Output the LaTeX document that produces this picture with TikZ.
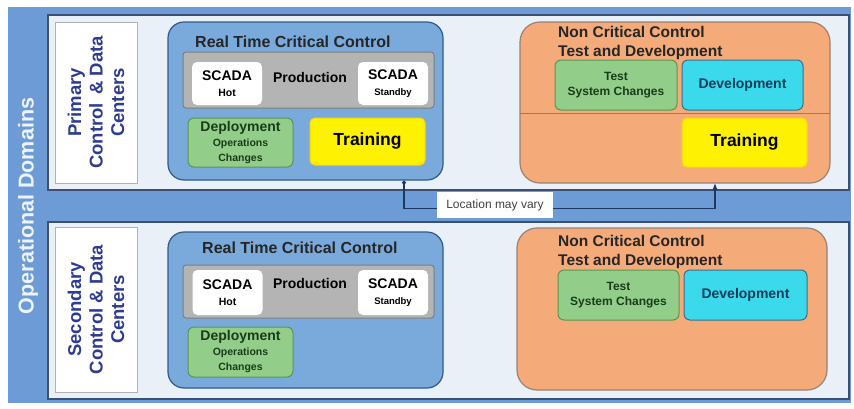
\documentclass[tikz,border=0pt]{standalone}
\usepackage{fontspec}
\setmainfont{Liberation Sans}
\usepackage{xcolor}
\usetikzlibrary{arrows.meta, positioning, calc}
\definecolor{opblue}{RGB}{108,155,214}
\definecolor{panelfill}{RGB}{234,240,247}
\definecolor{panelline}{RGB}{60,80,115}
\definecolor{rtfill}{RGB}{122,170,220}
\definecolor{rtline}{RGB}{47,90,140}
\definecolor{prodfill}{RGB}{180,180,180}
\definecolor{prodline}{RGB}{125,125,125}
\definecolor{greenfill}{RGB}{146,206,138}
\definecolor{greenline}{RGB}{90,150,80}
\definecolor{greentext}{RGB}{25,60,25}
\definecolor{ncfill}{RGB}{245,170,122}
\definecolor{ncline}{RGB}{150,130,118}
\definecolor{splitline}{RGB}{190,110,70}
\definecolor{devfill}{RGB}{58,218,236}
\definecolor{devline}{RGB}{60,110,140}
\definecolor{devtext}{RGB}{15,60,90}
\definecolor{sitecol}{RGB}{45,60,145}
\definecolor{linkcol}{RGB}{30,55,100}

\begin{document}
\begin{tikzpicture}[x=1pt, y=-1pt,
  every node/.style={inner sep=0pt},
  panel/.style={draw=panelline, fill=panelfill, line width=1.2pt},
  sitebox/.style={draw=black!30, fill=white, line width=0.8pt},
  sitetext/.style={rotate=90, align=center, text=sitecol, font=\fontsize{18.5}{21.5}\selectfont\bfseries},
  rtbox/.style={draw=rtline, fill=rtfill, line width=1.2pt, rounded corners=16pt},
  prodbox/.style={draw=prodline, fill=prodfill, line width=1pt, rounded corners=3pt},
  scada/.style={fill=white, rounded corners=5pt, align=center, minimum width=70pt, font=\fontsize{14}{16.5}\selectfont\bfseries},
  greenbox/.style={draw=greenline, fill=greenfill, line width=1pt, rounded corners=6pt, align=center, text=greentext, font=\fontsize{10.5}{15}\selectfont\bfseries},
  trainbox/.style={draw=yellow!75!orange, fill=yellow, line width=1pt, rounded corners=5pt, font=\fontsize{17.5}{20}\selectfont\bfseries},
  ncbox/.style={draw=ncline, fill=ncfill, line width=1.2pt, rounded corners=20pt},
  devbox/.style={draw=devline, fill=devfill, line width=1pt, rounded corners=6pt, text=devtext, minimum height=50pt, font=\fontsize{14}{16}\selectfont\bfseries},
  title/.style={anchor=west, align=left, text=black!85, font=\fontsize{15.5}{19}\selectfont\bfseries},
  link/.style={draw=linkcol, line width=1.2pt, {Circle[length=4pt]}-{Stealth[length=7pt]}}]
\useasboundingbox (0,0) rectangle (854,408);
\fill[opblue] (8,7) rectangle (851,403);
\node[rotate=90, text=white!88!opblue, font=\fontsize{21.5}{24}\selectfont\bfseries] (ops) at (28,206) {Operational Domains};

% primary site
\node[panel, minimum width=801pt, minimum height=175pt] (top) at (448.5,102.5) {};
\node[sitebox, minimum width=82pt, minimum height=161pt] (site1) at (96,102.5) {};
\node[sitetext] at (site1) {Primary\\Control \,\& Data\\Centers};

\node[rtbox, minimum width=275pt, minimum height=158pt] (rt1) at (305.5,101) {};
\node[title, font=\fontsize{16}{19}\selectfont\bfseries] (rtt1) at (195,42) {Real Time Critical Control};
\node[prodbox, minimum width=251pt, minimum height=56pt] (prod1) at (308.5,80) {};
\node[font=\fontsize{14}{16}\selectfont\bfseries] (prodt1) at (310,77) {Production};
\node[scada, minimum height=43pt] (hot1) at (227,83.5) {SCADA\\{\fontsize{10.5}{12}\selectfont Hot}};
\node[scada, minimum height=43pt] (stby1) at (393,83.5) {SCADA\\{\fontsize{9.5}{12}\selectfont Standby}};
\node[greenbox, minimum width=105pt, minimum height=49pt] (dep1) at (240.5,142.5) {{\fontsize{14}{16}\selectfont Deployment}\\Operations\\Changes};
\node[trainbox, minimum width=115pt, minimum height=47pt] (tr1) at (367.5,141.5) {Training};

\node[ncbox, minimum width=310pt, minimum height=161pt] (nc1) at (675,102.5) {};
\draw[splitline, line width=1pt] ($(nc1.west)+(0.6,10.5)$) -- ($(nc1.east)+(-0.6,10.5)$);
\node[title] (nct1) at (558,42.5) {Non Critical Control\\Test and Development};
\node[greenbox, minimum width=122pt, minimum height=50pt, font=\fontsize{12}{15}\selectfont\bfseries] (test1) at (616,85) {Test\\System Changes};
\node[devbox, minimum width=121pt] (dev1) at (742.5,85) {Development};
\node[trainbox, minimum width=125pt, minimum height=49pt] (tr2) at (744.5,142.5) {Training};

% secondary site
\node[panel, minimum width=801pt, minimum height=177pt] (bot) at (448.5,310.5) {};
\node[sitebox, minimum width=82pt, minimum height=165pt] (site2) at (96,309.5) {};
\node[sitetext] at (site2) {Secondary\\Control \& Data\\Centers};

\node[rtbox, minimum width=275pt, minimum height=156pt] (rt2) at (305.5,310) {};
\node[title, font=\fontsize{16}{19}\selectfont\bfseries] (rtt2) at (202,248) {Real Time Critical Control};
\node[prodbox, minimum width=251pt, minimum height=53pt] (prod2) at (308.5,291.5) {};
\node[font=\fontsize{14}{16}\selectfont\bfseries] (prodt2) at (310,283) {Production};
\node[scada, minimum height=45pt] (hot2) at (227.5,292.5) {SCADA\\{\fontsize{10.5}{12}\selectfont Hot}};
\node[scada, minimum height=45pt] (stby2) at (393,292.5) {SCADA\\{\fontsize{9.5}{12}\selectfont Standby}};
\node[greenbox, minimum width=105pt, minimum height=50pt] (dep2) at (240.5,352) {{\fontsize{14}{16}\selectfont Deployment}\\Operations\\Changes};

\node[ncbox, minimum width=310pt, minimum height=162pt] (nc2) at (672,309) {};
\node[title] (nct2) at (558,251.5) {Non Critical Control\\Test and Development};
\node[greenbox, minimum width=121pt, minimum height=50pt, font=\fontsize{12}{15}\selectfont\bfseries] (test2) at (618.5,295) {Test\\System Changes};
\node[devbox, minimum width=123pt] (dev2) at (745.5,295) {Development};

% training location link
\draw[link] ([xshift=98.5pt]rt1.south) -- ++(0,28) -| ([xshift=40pt]nc1.south);
\node[fill=white, minimum width=116pt, minimum height=26pt, text=black!75, font=\fontsize{12}{14}\selectfont] (loc) at (495,205) {Location may vary};
\end{tikzpicture}
\end{document}
